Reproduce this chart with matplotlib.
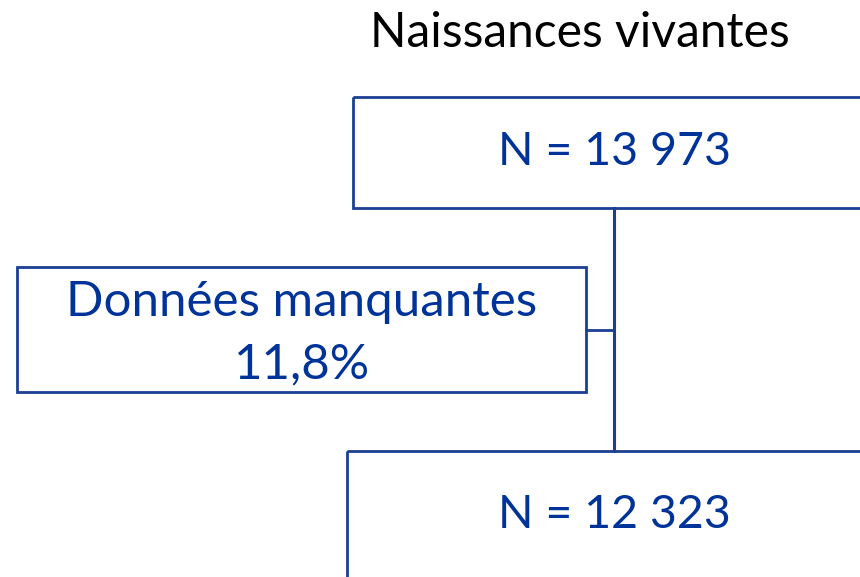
import matplotlib.pyplot as plt
from matplotlib.patches import Rectangle

# flowchart content
title = "Naissances vivantes"
labels = ["N = 13 973", "Données manquantes\n11,8%", "N = 12 323"]

# box geometry in pixels (x0, y0, x1, y1), image coords (y down)
boxes = [(353, 97, 900, 208), (17, 267, 586, 392), (347, 451, 900, 640)]
text_pos = [(614, 152), (302, 333), (614, 515)]
text_size = [33.5, 35.5, 33.5]

edge = "#1B3F93"
blue = "#003399"

fig = plt.figure(figsize=(8.6, 5.77), dpi=100)
ax = fig.add_axes([0, 0, 1, 1])
ax.set_xlim(0, 860)
ax.set_ylim(577, 0)
ax.axis("off")

for (x0, y0, x1, y1) in boxes:
    ax.add_patch(Rectangle((x0, y0), x1 - x0, y1 - y0, fill=False,
                           edgecolor=edge, linewidth=2, clip_on=True))

# connectors
ax.plot([614, 614], [208, 451], color=edge, lw=2.2)
ax.plot([586, 614], [330, 330], color=edge, lw=2)

ax.text(580, 33, title, ha="center", va="center", fontsize=34.5,
        family="Lato", color="black")
for (x, y), s, fs in zip(text_pos, labels, text_size):
    ax.text(x, y, s, ha="center", va="center", fontsize=fs, family="Lato",
            color=blue, linespacing=1.5)

fig.savefig("out.png", dpi=100)
